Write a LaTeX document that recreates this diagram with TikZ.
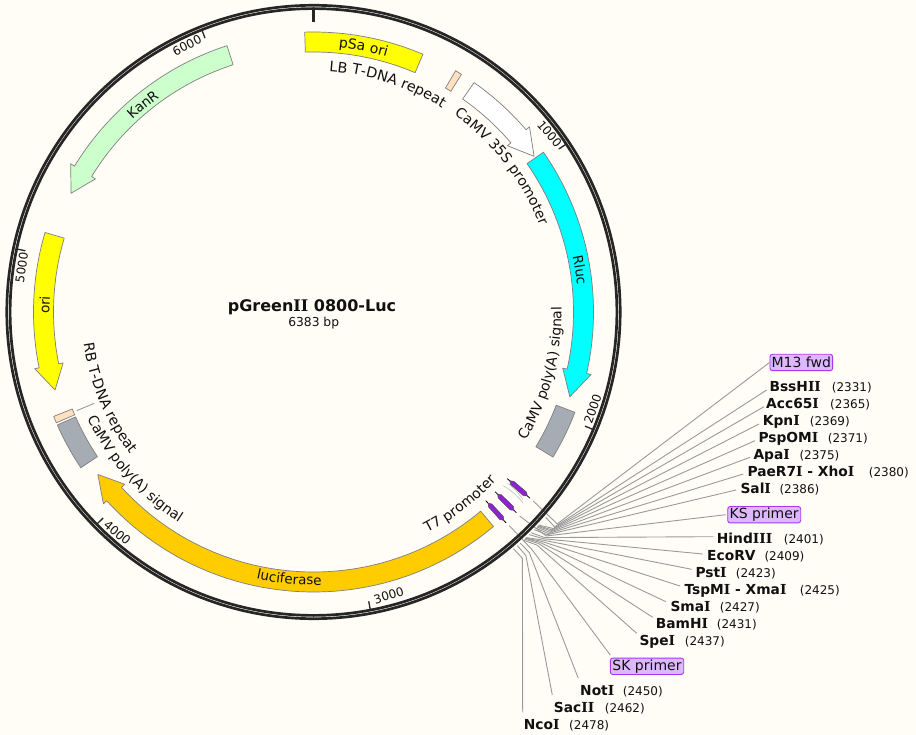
\documentclass[tikz,border=0pt]{standalone}
\usepackage{fontspec}
\setmainfont{DejaVu Sans}
\newfontfamily\slabfont[BoldFont={DejaVu Serif Bold}]{DejaVu Serif}
\newcommand{\I}{{\slabfont\bfseries I}}
\usetikzlibrary{decorations.text,calc}
\definecolor{bgc}{HTML}{FFFDF6}
\definecolor{ringc}{HTML}{262626}
\definecolor{edgec}{HTML}{7F7F7F}
\definecolor{linec}{HTML}{9A9A9A}
\definecolor{txtc}{HTML}{111111}
\definecolor{tagfill}{HTML}{DDB8FF}
\definecolor{tagedge}{HTML}{A838F0}
\definecolor{primerc}{HTML}{9020D8}
\definecolor{kan}{HTML}{CCFFCC}
\definecolor{luc}{HTML}{FFCC00}
\definecolor{polyA}{HTML}{A6ACB3}
\definecolor{tdna}{HTML}{FFE0C0}
\definecolor{yel}{HTML}{FFFF00}
\definecolor{cya}{HTML}{00FFFF}
\tikzset{
  feat/.style={draw=edgec,line width=0.7pt,line join=round},
  conn/.style={draw=linec,line width=0.9pt},
  site/.style={anchor=base west,inner sep=0pt,font=\fontsize{12}{14}\selectfont,text=txtc},
  tag/.style={draw=tagedge,fill=tagfill,rounded corners=2.5pt,line width=0.9pt,inner sep=0pt,minimum height=16.4pt,font=\fontsize{14}{16}\selectfont,text=txtc},
  ticklab/.style={inner sep=0pt,font=\fontsize{12}{14}\selectfont,text=txtc},
  tickmark/.style={draw=ringc,line width=1.3pt}
}
\newcommand{\sectorR}[3]{% theta1 theta2 fill
  \path[feat,fill=#3] (#1-90:280) arc[start angle=#1-90,end angle=#2-90,radius=280] -- (#2-90:260) arc[start angle=#2-90,end angle=#1-90,radius=260] -- cycle;}
\newcommand{\arrowR}[4]{% start, neck, tip, fill
  \path[feat,fill=#4] (#1-90:280) arc[start angle=#1-90,end angle=#2-90,radius=280] -- (#2-90:284.5) -- (#3-90:270) -- (#2-90:255.5) -- (#2-90:260) arc[start angle=#2-90,end angle=#1-90,radius=260] -- cycle;}
\newcommand{\primer}[1]{% theta
  \draw[black,line width=0.8pt] (#1-90:255.5) -- (#1-90:285.5);
  \path[draw=black!70,line width=0.5pt,fill=primerc] (#1-90:259) -- (#1-0.48-90:262) -- (#1-0.48-90:279) -- (#1-90:282) -- (#1+0.48-90:279) -- (#1+0.48-90:262) -- cycle;}
\newcommand{\textCW}[4]{% centre, radius, size, text
  \path[decorate,decoration={text along path,text align=center,text={|\fontsize{#3}{16}\selectfont\color{txtc}|#4}}]
    (#1-45-90:#2) arc[start angle=#1-45-90,end angle=#1+45-90,radius=#2];}
\newcommand{\textCCW}[4]{%
  \path[decorate,decoration={text along path,text align=center,text={|\fontsize{#3}{16}\selectfont\color{txtc}|#4}}]
    (#1+45-90:#2) arc[start angle=#1+45-90,end angle=#1-45-90,radius=#2];}
\begin{document}
\begin{tikzpicture}[x=1pt,y=-1pt]
\useasboundingbox (0,0) rectangle (916,735);
\fill[bgc] (0,0) rectangle (916,735);
\begin{scope}[shift={(313.5,312)}]
  % site points and elbows
  \foreach \i/\ts/\rs/\te in {m/130.7/290/131.0,a/131.5/310/131.7,b/133.4/310/132.1,c/133.6/310/132.4,d/133.7/310/132.7,f/133.9/310/133.0,g/134.2/310/133.3,h/134.6/310/133.6,k/134.7/290/133.9,j/135.4/310/134.3,l/135.9/310/134.6,n/136.7/310/134.9,o/136.8/310/135.2,p/136.9/310/135.5,q/137.1/310/135.8,r/137.4/310/136.2,s/137.5/290/137.4,t/138.2/310/138.1,u/138.9/310/138.9,v/139.8/310/139.7}{
    \coordinate (s\i) at (\ts-90:\rs);
    \coordinate (e\i) at (\te-90:323);
  }
\end{scope}
% name labels and enzyme sites
\node[tag,minimum width=62.7pt] (Mtag) at (801.3,362.5) {M13 fwd};
\node[tag,minimum width=73pt] (Ktag) at (764.2,514.7) {KS primer};
\node[tag,minimum width=73.4pt] (Stag) at (647,666.3) {SK primer};
\foreach \i/\nm/\x/\y/\w/\num in {
 a/BssH\I\I/769.3/391.8/62.4/2331,
 b/Acc65\I/766/408.8/64/2365,
 c/Kpn\I/762.7/425.8/47/2369,
 d/PspOM\I/758.3/442.8/69.4/2371,
 f/Apa\I/753.3/459.8/46/2375,
 g/PaeR7\I{} - Xho\I/747.3/476.8/121.4/2380,
 h/Sal\I/740.3/493.8/39/2386,
 j/Hind\I\I\I/716.7/543.8/67/2401,
 l/EcoRV/707/560.8/57.3/2409,
 n/Pst\I/695.3/577.8/40.4/2423,
 o/TspM\I{} - Xma\I/684.3/594.8/115.4/2425,
 p/Sma\I/670.3/611.8/49.4/2427,
 q/BamH\I/655.7/628.8/61/2431,
 r/Spe\I/639.3/645.8/45.4/2437,
 t/Not\I/580/695.8/42.7/2450,
 u/Sac\I\I/553.7/712.8/51/2462,
 v/Nco\I/523.7/729.8/45.3/2478}{
  \node[site] (lab\i) at (\x,\y) {\makebox[\w pt][l]{\fontsize{13.8}{14}\selectfont\bfseries \nm}(\num)};
}
% connector targets
\foreach \i/\x/\y in {a/766.7/390,b/764/406.7,c/759/424,d/755/440.7,f/750/457.3,g/743.3/474,h/736/490,j/713.3/536.7,l/702.7/554,n/691.7/569.3,o/680/586,p/666/601.7,q/652.7/617.3,r/636.7/633.3,t/578.3/678.3,u/552.3/695,v/522.7/712.3}{
  \coordinate (t\i) at (\x,\y);
}
\coordinate (tm) at (Mtag.west);
\coordinate (tk) at ($(Ktag.west)+(-1.5,0)$);
\coordinate (ts) at ($(Stag.north west)+(0.5,-2.5)$);
\foreach \i in {m,a,b,c,d,f,g,h,k,j,l,n,o,p,q,r,s,t,u,v}{
  \draw[conn] (s\i) -- (e\i) -- (t\i);
}
% faint curves beside the primers
\coordinate (fa1) at (507.7,483.3);
\coordinate (fa2) at (522.7,499.3);
\coordinate (fb1) at (503.3,485.7);
\coordinate (fb2) at (523.3,503.3);
\draw[conn,draw=linec!70,line width=0.5pt] (fa1) to[bend left=10] (fa2);
\draw[conn,draw=linec!70,line width=0.5pt] (fb1) to[bend left=10] (fb2);
\begin{scope}[shift={(313.5,312)}]
  % backbone
  \draw[ringc,line width=2.7pt] (0,0) circle[radius=306.7];
  \draw[ringc,line width=2.7pt] (0,0) circle[radius=303.4];
  % ticks
  \draw[ringc,line width=3.4pt] (-90:303) -- (-90:289.5);
  \foreach \b in {1000,2000,3000,4000,5000,6000}{
    \pgfmathsetmacro{\ang}{\b/6383*360-90}
    \draw[tickmark] (\ang:302.5) -- (\ang:294.5);
  }
  % features
  \sectorR{-1.8}{23}{yel}
  \sectorR{30.5}{31.9}{tdna}
  \arrowR{35}{49.4}{54.8}{white}
  \arrowR{55.2}{102.7}{108.3}{cya}
  \sectorR{111}{121.2}{polyA}
  \primer{130.7}
  \primer{134.7}
  \primer{137.6}
  \arrowR{140}{227.6}{233}{luc}
  \sectorR{236.2}{246.2}{polyA}
  \sectorR{246.7}{248.1}{tdna}
  \arrowR{286.5}{258.5}{253.2}{yel}
  \arrowR{342}{301.4}{296.1}{kan}
  % labels along the arcs
  \textCW{10.7}{265.5}{14}{pSa ori}
  \textCW{18}{241}{14.4}{LB T-DNA repeat}
  \textCW{52.3}{242}{14.1}{CaMV 35S promoter}
  \textCW{81}{265}{13.6}{Rluc}
  \textCCW{105}{248}{14}{CaMV poly(A) signal}
  \textCCW{142.7}{248.5}{14}{T7 promoter}
  \textCCW{185.2}{273}{13.5}{luciferase}
  \textCCW{228.7}{250}{14}{CaMV poly(A) signal}
  \textCCW{247.2}{232}{14.3}{RB T-DNA repeat}
  \textCW{271.5}{264}{13.6}{ori}
  \textCW{320.5}{264}{13.6}{KanR}
\end{scope}
% RB leader
\coordinate (rb1) at (76.7,410.7);
\coordinate (rb2) at (94.3,403.3);
\draw[conn] (rb1) -- (rb2);
% tick labels
\node[ticklab,rotate=-50] (t1000) at (549.5,134) {1000};
\node[ticklab,rotate=71] (t2000) at (592.7,409) {2000};
\node[ticklab,rotate=17] (t3000) at (388.8,595.5) {3000};
\node[ticklab,rotate=-40] (t4000) at (117.3,532.7) {4000};
\node[ticklab,rotate=82] (t5000) at (21.7,267.5) {5000};
\node[ticklab,rotate=27] (t6000) at (187,45.5) {6000};
% title
\node[inner sep=0pt,anchor=base,font=\fontsize{16}{18}\selectfont\bfseries,text=txtc] (title) at (312,311.7) {pGreen\I\I{} 0800-Luc};
\node[inner sep=0pt,anchor=base,font=\fontsize{12.3}{14}\selectfont,text=txtc] (size) at (313.7,326.7) {6383 bp};
\end{tikzpicture}
\end{document}
